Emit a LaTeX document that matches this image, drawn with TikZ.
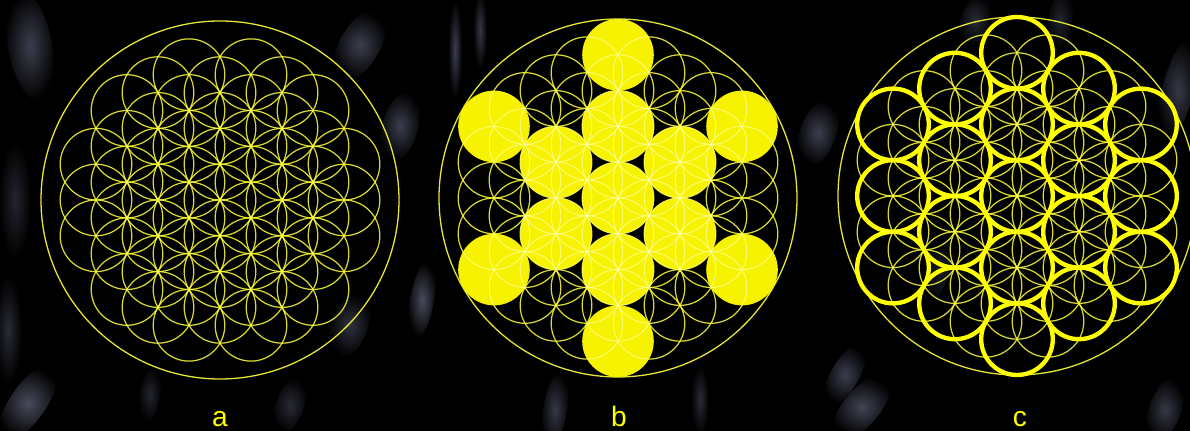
\documentclass[tikz,border=0pt]{standalone}
\usepackage{fontspec}
\setmainfont{Liberation Sans}

\definecolor{gridyellow}{RGB}{255,255,60}
\definecolor{palegrid}{RGB}{255,255,175}
\definecolor{fruityellow}{RGB}{246,242,0}
\definecolor{ringyellow}{RGB}{255,255,0}
\definecolor{streak}{RGB}{120,125,155}

\newcommand\cellr{35.8}
\newcommand\flowergrid[1]{%
  \foreach \i in {-4,...,4}{
    \foreach \j in {-6,...,6}{
      \pgfmathsetmacro\px{0.8660254*\i}
      \pgfmathsetmacro\py{\j+0.5*\i}
      \pgfmathtruncatemacro\keep{(\px*\px+\py*\py<15.5)}
      \ifnum\keep=1
        \draw[#1] (\px*\cellr,\py*\cellr) circle[radius=\cellr];
      \fi
    }
  }
}

\begin{document}
\begin{tikzpicture}[x=0.03cm,y=0.03cm,line cap=round,line join=round,
  gridline/.style={draw=gridyellow,line width=1.05pt,draw opacity=0.85},
  paleline/.style={draw=palegrid,line width=0.8pt,draw opacity=0.7},
  rim/.style={draw=gridyellow,line width=1.1pt,draw opacity=0.9},
  fruit/.style={fill=fruityellow},
  ring/.style={draw=ringyellow,line width=3.7pt},
  lab/.style={text=ringyellow,font=\fontsize{24}{26}\selectfont,anchor=base,inner sep=0pt},
  haze/.style={inner color=streak,outer color=black}]
  \fill[black] (0,0) rectangle (1190,431);
  \useasboundingbox (0,0) rectangle (1190,431);
  % background streaks
  \foreach \x/\y/\a/\w/\h/\o in {30/385/10/22/55/0.5, 360/386/-30/20/40/0.5,
      15/231/0/16/60/0.3, 8/101/0/14/55/0.35, 28/28/-35/18/45/0.6,
      350/106/-20/18/35/0.4, 400/304/-15/18/35/0.5, 422/131/-10/12/40/0.6,
      455/381/0/7/50/0.5, 480/401/0/7/40/0.45, 818/298/-20/18/35/0.5,
      845/56/-30/14/35/0.5, 862/24/-40/18/40/0.55, 1178/341/-15/16/55/0.45,
      1165/21/-20/16/35/0.45, 555/21/-10/12/40/0.45, 290/26/-20/14/30/0.35,
      700/31/0/9/35/0.35, 150/36/-10/10/28/0.3, 975/411/-20/14/28/0.35,
      1060/411/-10/12/30/0.3, 940/160/-20/10/35/0.25}
    \shade[haze,opacity=\o,rotate around={\a:(\x,\y)}] (\x,\y) ellipse[x radius=\w,y radius=\h];
  \coordinate (a) at (220,231);
  \coordinate (b) at (618,233);
  \coordinate (c) at (1017,235);
  % a: flower of life
  \begin{scope}[shift={(a)}]
    \flowergrid{gridline}
    \draw[rim] (0,0) circle[radius=5*\cellr];
  \end{scope}
  % b: fruit of life
  \begin{scope}[shift={(b)}]
    \flowergrid{gridline}
    \draw[rim] (0,0) circle[radius=5*\cellr];
    \fill[fruit] (0,0) circle[radius=\cellr]
      \foreach \t in {30,90,...,330}{(\t:2*\cellr) circle[radius=\cellr] (\t:4*\cellr) circle[radius=\cellr]};
    \begin{scope}
      \clip (0,0) circle[radius=\cellr]
        \foreach \t in {30,90,...,330}{(\t:2*\cellr) circle[radius=\cellr] (\t:4*\cellr) circle[radius=\cellr]};
      \flowergrid{paleline}
    \end{scope}
  \end{scope}
  % c: nineteen rings
  \begin{scope}[shift={(c)}]
    \flowergrid{gridline}
    \draw[rim] (0,0) circle[radius=5*\cellr];
    \foreach \i in {-2,...,2}{
      \foreach \j in {-4,...,4}{
        \pgfmathsetmacro\px{1.7320508*\i}
        \pgfmathsetmacro\py{2*\j+\i}
        \pgfmathtruncatemacro\keep{(\px*\px+\py*\py<17)}
        \ifnum\keep=1
          \draw[ring] (\px*\cellr,\py*\cellr) circle[radius=\cellr];
        \fi
      }
    }
  \end{scope}
  \node[lab] (la) at (220,4) {a};
  \node[lab] (lb) at (619,4) {b};
  \node[lab] (lc) at (1020,4) {c};
\end{tikzpicture}
\end{document}
